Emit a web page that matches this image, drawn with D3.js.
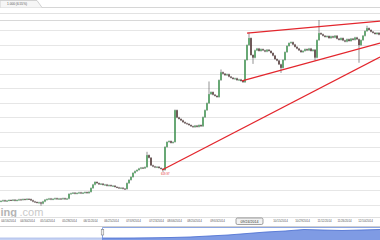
<!DOCTYPE html>
<html>
<head>
<meta charset="utf-8">
<script src="https://cdn.jsdelivr.net/npm/d3@7"></script>
<style>
  html, body { margin: 0; padding: 0; background: #fff; }
  svg { display: block; font-family: "Liberation Sans", Arial, sans-serif; }
</style>
</head>
<body>
<svg id="chart" width="380" height="240"></svg>
<script>
// ------------------ data ------------------
// daily closes, one per candle
const closes = [
  514, 516, 513, 515, 517, 516, 518, 515, 517, 519, 518, 520, 519, 521, 520,
  516, 512, 510, 508, 509, 505, 512,
  518, 520, 522, 519, 521, 523, 520, 522, 521, 523, 520, 522,
  538,
  540, 542, 539, 541, 543, 540, 542, 544, 541, 545,
  558, 570, 579,
  575, 571, 573, 569, 570, 566, 568, 565, 566,
  562, 560, 558, 559, 556, 555,
  575, 586, 596,
  610, 616, 620,
  625, 628, 626, 630,
  671, 662,
  636, 632, 629, 631, 627, 624,
  620,
  699, 716,
  719, 713, 716,
  825,
  800, 795, 790,
  784, 780, 778, 774, 770, 767,
  772, 768, 774, 770,
  801, 825, 849,
  880,
  887, 878, 874, 870,
  928, 955,
  950, 945, 948, 940,
  936, 932, 934, 928, 930, 925,
  921,
  997, 1048, 1072,
  1014, 1005,
  1030, 1036, 1028, 1034, 1030, 1026, 1032, 1028,
  1021, 1012, 1000,
  995, 982, 970,
  997, 1024, 1045, 1055,
  1058, 1050,
  1042, 1036, 1030, 1024, 1028,
  1034, 1030, 1036, 1028, 1032,
  1005, 1065,
  1089,
  1085, 1080, 1076, 1079, 1072,
  1078, 1074, 1080, 1070, 1066, 1072, 1064, 1060, 1068, 1062,
  1070, 1066, 1074, 1068,
  1048,
  1065, 1080, 1096, 1106,
  1100, 1094, 1090,
  1086, 1090, 1084
];
const firstOpen = 512;

// long wicks [candle index, price]
const highSpikes = [[73, 680], [104, 921], [110, 962], [124, 1089], [159, 1134], [183, 1112]];
const lowSpikes = [[20, 500], [81, 616], [126, 986], [140, 955], [157, 998], [179, 990]];

// hand-drawn trend lines [candle index, price]
const channelTop = [[123, 1089], [189.5, 1130]];
const channelBottom = [[120.5, 925], [189.5, 1055]];
const trendLow = [[80.5, 620], [189.5, 1007]];
const lowMark = { idx: 80, price: 620, text: "619.97" };

// x-axis ticks: candle index + label
const tickIdx = [3.5, 13, 23, 34, 44.5, 55, 66, 77.5, 86.5, 96.5, 108, 118.5, 129, 139.5, 150.5, 161.5, 171.5, 182];
const tickLabels = [
  "04/16/2014", "04/30/2014", "05/14/2014", "05/28/2014", "06/11/2014", "06/25/2014",
  "07/09/2014", "07/23/2014", "08/06/2014", "08/20/2014", "09/03/2014", "09/17/2014",
  "10/01/2014", "10/15/2014", "10/29/2014", "11/12/2014", "11/26/2014", "12/10/2014"
];
const gridPrices = [500, 550, 600, 650, 700, 750, 800, 850, 900, 950, 1000, 1050, 1100];

const hoverIdx = 124.25;
const hoverLabel = "09/24/2014";
const tabText = "1.000 (6.55%)";

// navigator overview series
const navValues = [454, 456, 452, 455, 458, 454, 450, 455, 469, 492, 531, 608, 685, 800, 915, 992, 1108, 1069, 1031, 1069, 1108];

// ------------------ setup ------------------
const W = 380, H = 240;
const plotTop = 20, plotBottom = 217;
const svg = d3.select('#chart');

const x = d3.scaleLinear().domain([-0.5, closes.length - 0.5]).range([0, W]);
const y = d3.scaleLinear().domain([459, 1134]).range([plotBottom, plotTop]);

// ------------------ top strip ------------------
svg.append('line').attr('x1', 0).attr('x2', W).attr('y1', 7.5).attr('y2', 7.5).attr('stroke', '#d6d6d6');
svg.append('path')
  .attr('d', 'M0,7.5 L0,0.5 L37,0.5 L42,7.5')
  .attr('fill', '#f6f6f6').attr('stroke', '#c8c8c8').attr('stroke-width', 0.8);
svg.append('text').attr('x', 7).attr('y', 5.3)
  .attr('font-size', 3.2).attr('fill', '#555').text(tabText);
svg.append('line').attr('x1', 0).attr('x2', W).attr('y1', 13.5).attr('y2', 13.5).attr('stroke', '#e2e2e2');
svg.append('line').attr('x1', 0).attr('x2', W).attr('y1', 20.5).attr('y2', 20.5).attr('stroke', '#d8d8d8');

// ------------------ grid ------------------
svg.append('g')
  .selectAll('line')
  .data(gridPrices)
  .join('line')
  .attr('x1', 0).attr('x2', W)
  .attr('y1', d => Math.round(y(d)) + 0.5)
  .attr('y2', d => Math.round(y(d)) + 0.5)
  .attr('stroke', '#e6e6e6');

// watermark: only the visible part of the logo
svg.append('text').attr('x', 0.5).attr('y', 216).attr('font-size', 11)
  .attr('font-weight', 'bold').attr('fill', '#b4b4b4').text('ing');
svg.append('text').attr('x', 19.5).attr('y', 216).attr('font-size', 11)
  .attr('fill', '#c9c9c9').text('.com');

// ------------------ candles ------------------
const candles = closes.map((c, i) => {
  const o = i === 0 ? firstOpen : closes[i - 1];
  return { i, o, c, h: Math.max(o, c), l: Math.min(o, c) };
});
highSpikes.forEach(([i, p]) => { candles[i].h = p; });
lowSpikes.forEach(([i, p]) => { candles[i].l = p; });

svg.append('clipPath').attr('id', 'plot-clip')
  .append('rect').attr('x', 0).attr('y', plotTop).attr('width', W).attr('height', plotBottom - plotTop);

const plot = svg.append('g').attr('clip-path', 'url(#plot-clip)');

plot.append('g')
  .selectAll('line')
  .data(candles)
  .join('line')
  .attr('x1', d => x(d.i)).attr('x2', d => x(d.i))
  .attr('y1', d => y(d.h) - 0.7)
  .attr('y2', d => y(d.l) + 0.7)
  .attr('stroke', '#4a4a4a')
  .attr('stroke-width', 0.6);

plot.append('g')
  .selectAll('rect')
  .data(candles)
  .join('rect')
  .attr('x', d => x(d.i) - 0.7)
  .attr('width', 1.4)
  .attr('y', d => y(Math.max(d.o, d.c)))
  .attr('height', d => Math.max(0.9, Math.abs(y(d.o) - y(d.c))))
  .attr('fill', d => d.c >= d.o ? '#3f9a52' : '#4a2c2c');

// ------------------ trend lines ------------------
const lineGen = d3.line().x(d => x(d[0])).y(d => y(d[1]));
plot.append('g')
  .selectAll('path')
  .data([channelTop, channelBottom, trendLow])
  .join('path')
  .attr('d', lineGen)
  .attr('fill', 'none')
  .attr('stroke', '#e3262d')
  .attr('stroke-width', 1.3);

svg.append('text')
  .attr('x', x(lowMark.idx))
  .attr('y', y(lowMark.price) + 4.5)
  .attr('font-size', 2.8)
  .attr('fill', '#e3262d')
  .text(lowMark.text);

// ------------------ x axis ------------------
svg.append('line').attr('x1', 0).attr('x2', W).attr('y1', plotBottom + 0.5).attr('y2', plotBottom + 0.5).attr('stroke', '#e0e0e0');

// the hovered-date box sits on top of two tick labels, so those are left out
const hx = x(hoverIdx);
const boxW = 27;
const shownTicks = tickIdx
  .map((t, i) => ({ t, label: tickLabels[i] }))
  .filter(d => Math.abs(x(d.t) - hx) > boxW / 2 + 8);

const xAxis = d3.axisBottom(x)
  .tickValues(shownTicks.map(d => d.t))
  .tickFormat((d, i) => shownTicks[i].label)
  .tickSize(0)
  .tickPadding(3);

const xg = svg.append('g').attr('transform', `translate(0,${plotBottom})`).call(xAxis);
xg.select('.domain').remove();
xg.selectAll('text')
  .attr('font-size', 2.9)
  .attr('fill', '#555')
  .attr('font-family', '"Liberation Sans", Arial, sans-serif');

// hovered date box
svg.append('rect')
  .attr('x', hx - boxW / 2).attr('y', 218).attr('width', boxW).attr('height', 6.5)
  .attr('rx', 1.5).attr('fill', '#f2f2f2').attr('stroke', '#666').attr('stroke-width', 0.6);
svg.append('text').attr('x', hx).attr('y', 222.6)
  .attr('text-anchor', 'middle').attr('font-size', 3.6).attr('fill', '#333').text(hoverLabel);

// ------------------ navigator ------------------
const navTop = 227, navBottom = 240;
const nx = d3.scaleLinear().domain([0, navValues.length - 1]).range([0, W]);
const ny = d3.scaleLinear().domain([300, 1300]).range([navBottom, navTop]);

svg.append('line').attr('x1', 0).attr('x2', W).attr('y1', navTop - 0.5).attr('y2', navTop - 0.5).attr('stroke', '#cfcfcf');

svg.append('path')
  .datum(navValues)
  .attr('d', d3.area().x((d, i) => nx(i)).y0(navBottom).y1(d => ny(d)))
  .attr('fill', '#7f9be4');
svg.append('path')
  .datum(navValues)
  .attr('d', d3.line().x((d, i) => nx(i)).y(d => ny(d)))
  .attr('fill', 'none').attr('stroke', '#4569cf').attr('stroke-width', 0.8);

// unselected part of the navigator
svg.append('rect').attr('x', 0).attr('y', navTop).attr('width', 102).attr('height', navBottom - navTop)
  .attr('fill', '#fff').attr('opacity', 0.55);
svg.append('path').attr('d', `M102.5,${navBottom} L102.5,${navTop + 0.5} L${W},${navTop + 0.5}`)
  .attr('fill', 'none').attr('stroke', '#6f8fdc').attr('stroke-width', 0.8);
svg.append('rect').attr('x', 101.2).attr('y', 229.5).attr('width', 2.6).attr('height', 5.5)
  .attr('fill', '#eee').attr('stroke', '#777').attr('stroke-width', 0.5);
</script>
</body>
</html>
